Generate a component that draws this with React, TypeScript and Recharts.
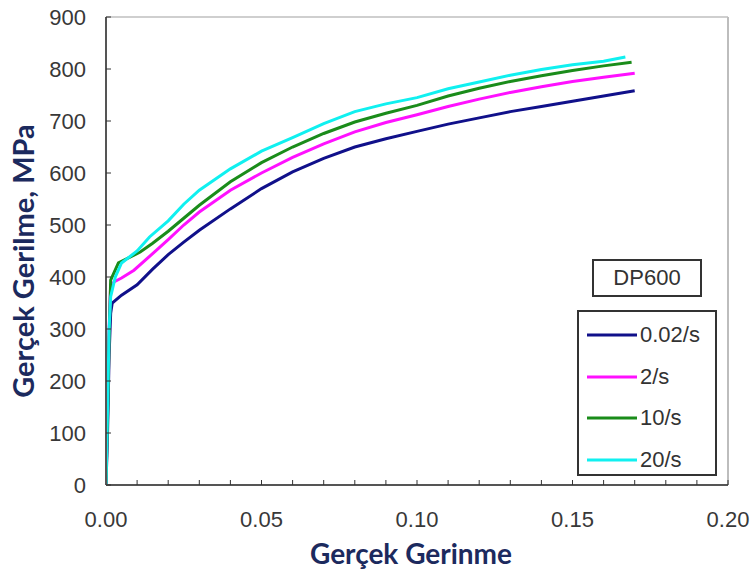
import React from "react";
import {
  LineChart,
  Line,
  XAxis,
  YAxis,
  ReferenceLine,
} from "recharts";

// strain values for each curve (x) and true stress in MPa (y)
const strain002 = [0, 0.0005, 0.001, 0.0015, 0.002, 0.005, 0.01, 0.015, 0.02, 0.025, 0.03, 0.04, 0.05, 0.06, 0.07, 0.08, 0.09, 0.1, 0.11, 0.12, 0.13, 0.14, 0.15, 0.16, 0.17];
const stress002 = [0, 100, 250, 330, 350, 365, 385, 415, 443, 467, 490, 531, 570, 602, 628, 650, 666, 680, 694, 706, 718, 728, 738, 748, 758];

const strain2 = [0, 0.0005, 0.001, 0.0015, 0.003, 0.005, 0.009, 0.015, 0.02, 0.025, 0.03, 0.04, 0.05, 0.06, 0.07, 0.08, 0.09, 0.1, 0.11, 0.12, 0.13, 0.14, 0.15, 0.16, 0.17];
const stress2 = [0, 160, 300, 385, 392, 398, 413, 445, 472, 500, 525, 567, 600, 630, 656, 679, 697, 712, 728, 742, 755, 766, 776, 784, 792];

const strain10 = [0, 0.0005, 0.001, 0.0015, 0.004, 0.011, 0.015, 0.02, 0.025, 0.03, 0.04, 0.05, 0.06, 0.07, 0.08, 0.09, 0.1, 0.11, 0.12, 0.13, 0.14, 0.15, 0.16, 0.169];
const stress10 = [0, 130, 280, 394, 427, 448, 465, 488, 513, 538, 583, 620, 650, 676, 698, 715, 730, 748, 763, 776, 787, 797, 806, 813];

const strain20 = [0, 0.0005, 0.001, 0.0015, 0.003, 0.005, 0.01, 0.014, 0.02, 0.025, 0.03, 0.04, 0.05, 0.06, 0.07, 0.08, 0.09, 0.1, 0.11, 0.12, 0.13, 0.14, 0.15, 0.16, 0.167];
const stress20 = [0, 150, 300, 362, 400, 427, 450, 477, 508, 540, 567, 608, 642, 668, 695, 718, 733, 745, 762, 775, 788, 799, 808, 815, 823];

const seriesNames = ["0.02/s", "2/s", "10/s", "20/s"];
const seriesColors = ["#10108a", "#ff10ff", "#1a8c1a", "#10f0f0"];

const xTicks = [0, 0.01, 0.02, 0.03, 0.04, 0.05, 0.06, 0.07, 0.08, 0.09, 0.1, 0.11, 0.12, 0.13, 0.14, 0.15, 0.16, 0.17, 0.18, 0.19, 0.2];
const xLabelTicks = [0, 0.05, 0.1, 0.15, 0.2];
const yTicks = [0, 100, 200, 300, 400, 500, 600, 700, 800, 900];

const toPoints = (xs: number[], ys: number[]) => xs.map((x, i) => ({ x, y: ys[i] }));

const seriesData = [
  toPoints(strain002, stress002),
  toPoints(strain2, stress2),
  toPoints(strain10, stress10),
  toPoints(strain20, stress20),
];

const tickFont = { fontFamily: "Liberation Sans, Arial, sans-serif", fontSize: 22, fill: "#383838" };
const titleColor = "#1c2a5e";

export default function App() {
  return (
    <div style={{ position: "absolute", left: 0, top: 0, width: 754, height: 578, background: "#fff" }}>
      <LineChart
        width={754}
        height={578}
        margin={{ top: 17, right: 26, bottom: 53, left: 46 }}
      >
        <XAxis
          type="number"
          dataKey="x"
          domain={[0, 0.2]}
          ticks={xTicks}
          interval={0}
          height={40}
          tickSize={-5}
          tickMargin={31}
          axisLine={{ stroke: "#555", strokeWidth: 2 }}
          tickLine={{ stroke: "#333" }}
          tick={tickFont}
          tickFormatter={(v: number) =>
            xLabelTicks.some((t) => Math.abs(t - v) < 1e-6) ? v.toFixed(2) : ""
          }
          allowDataOverflow
        />
        <YAxis
          type="number"
          dataKey="y"
          domain={[0, 900]}
          ticks={yTicks}
          interval={0}
          width={60}
          tickSize={-5}
          tickMargin={25}
          axisLine={{ stroke: "#555", strokeWidth: 2 }}
          tickLine={{ stroke: "#333" }}
          tick={tickFont}
        />
        <ReferenceLine y={900} stroke="#cfcfcf" strokeWidth={2} />
        <ReferenceLine x={0.2} stroke="#bdbdbd" strokeWidth={2} />
        {seriesData.map((d, i) => (
          <Line
            key={seriesNames[i]}
            data={d}
            dataKey="y"
            name={seriesNames[i]}
            type="linear"
            stroke={seriesColors[i]}
            strokeWidth={3}
            dot={false}
            isAnimationActive={false}
          />
        ))}
      </LineChart>

      {/* axis titles */}
      <div
        style={{
          position: "absolute",
          left: 100,
          width: 622,
          top: 536,
          textAlign: "center",
          fontFamily: "Lato, sans-serif",
          fontWeight: 700,
          fontSize: 28,
          color: titleColor,
        }}
      >
        Gerçek Gerinme
      </div>
      <div
        style={{
          position: "absolute",
          left: 22,
          top: 261,
          transform: "translate(-50%, -50%) rotate(-90deg)",
          whiteSpace: "nowrap",
          fontFamily: "Lato, sans-serif",
          fontWeight: 700,
          fontSize: 29,
          color: titleColor,
        }}
      >
        Gerçek Gerilme, MPa
      </div>

      {/* DP600 tag */}
      <div
        style={{
          position: "absolute",
          left: 592,
          top: 259,
          width: 106,
          height: 34,
          border: "2px solid #333",
          fontFamily: "Liberation Sans, Arial, sans-serif",
          fontSize: 22,
          color: "#333",
          textAlign: "center",
          lineHeight: "34px",
          background: "#fff",
        }}
      >
        DP600
      </div>

      {/* legend */}
      <div
        style={{
          position: "absolute",
          left: 577,
          top: 310,
          width: 136,
          height: 162,
          border: "2px solid #333",
          background: "#fff",
        }}
      >
        {seriesNames.map((n, i) => (
          <div
            key={n}
            style={{
              position: "absolute",
              left: 8,
              top: 10 + i * 41.5,
              height: 26,
              display: "flex",
              alignItems: "center",
            }}
          >
            <svg width={50} height={6}>
              <line x1={0} y1={3} x2={50} y2={3} stroke={seriesColors[i]} strokeWidth={3} />
            </svg>
            <span
              style={{
                marginLeft: 3,
                fontFamily: "Liberation Sans, Arial, sans-serif",
                fontSize: 22,
                color: "#333",
              }}
            >
              {n}
            </span>
          </div>
        ))}
      </div>
    </div>
  );
}
